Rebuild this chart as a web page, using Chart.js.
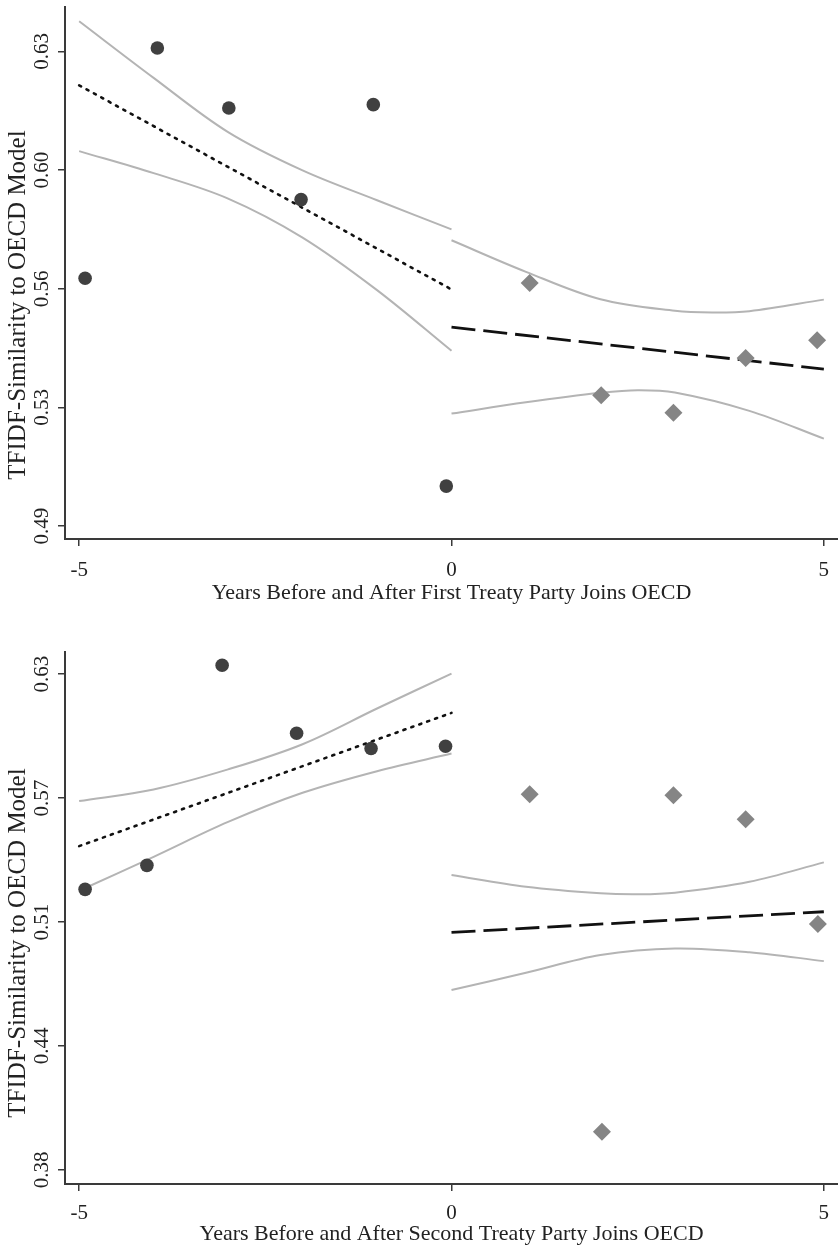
<!DOCTYPE html>
<html>
<head>
<meta charset="utf-8">
<script src="https://cdn.jsdelivr.net/npm/chart.js@4.4.1/dist/chart.umd.min.js"></script>
<style>
  html, body { margin: 0; padding: 0; background: #ffffff; }
  #wrap { position: relative; width: 838px; height: 1250px; }
  canvas { position: absolute; left: 0; display: block; }
</style>
</head>
<body>
<div id="wrap">
  <canvas id="c1" width="838" height="618" style="top:0px"></canvas>
  <canvas id="c2" width="838" height="632" style="top:618px"></canvas>
</div>
<script>
// ---------- shared axis labels ----------
const xTicks = [-5, 0, 5];
const xTickLabels = ['-5', '0', '5'];
const yTitle = 'TFIDF-Similarity to OECD Model';
const xTitleTop = 'Years Before and After First Treaty Party Joins OECD';
const xTitleBottom = 'Years Before and After Second Treaty Party Joins OECD';

// ---------- top panel ----------
const topYTicks = [0.49, 0.525, 0.56, 0.595, 0.63];
const topYTickLabels = ['0.49', '0.53', '0.56', '0.60', '0.63'];
const topPreX = [-4.92, -3.95, -2.99, -2.02, -1.05, -0.07];
const topPreY = [0.5631, 0.6310, 0.6133, 0.5863, 0.6143, 0.5018];
const topPostX = [1.05, 2.01, 2.98, 3.95, 4.91];
const topPostY = [0.5617, 0.5286, 0.5234, 0.5396, 0.5448];
const topPreFitX = [-5, 0];
const topPreFitY = [0.6200, 0.5598];
const topPostFitX = [0, 5];
const topPostFitY = [0.5487, 0.5363];
const topPreCIX = [-5, -4, -3, -2, -1, 0];
const topPreCIUpper = [0.6389, 0.6222, 0.6062, 0.5949, 0.5861, 0.5775];
const topPreCILower = [0.6006, 0.5941, 0.5866, 0.5751, 0.5596, 0.5417];
const topPostCIUpperX = [0, 1, 2, 3, 3.5, 4, 5];
const topPostCIUpper = [0.5743, 0.5650, 0.5569, 0.5535, 0.5530, 0.5534, 0.5568];
const topPostCILowerX = [0, 1, 2, 2.5, 3, 4, 5];
const topPostCILower = [0.5232, 0.5265, 0.5293, 0.5301, 0.5294, 0.5240, 0.5158];

// ---------- bottom panel ----------
const botYTicks = [0.38, 0.4425, 0.505, 0.5675, 0.63];
const botYTickLabels = ['0.38', '0.44', '0.51', '0.57', '0.63'];
const botPreX = [-4.92, -4.09, -3.08, -2.08, -1.08, -0.08];
const botPreY = [0.5215, 0.5336, 0.6345, 0.6002, 0.5925, 0.5937];
const botPostX = [1.05, 2.02, 2.98, 3.95, 4.92];
const botPostY = [0.5694, 0.3993, 0.5690, 0.5568, 0.5040];
const botPreFitX = [-5, 0];
const botPreFitY = [0.5433, 0.6105];
const botPostFitX = [0, 5];
const botPostFitY = [0.4998, 0.5102];
const botPreCIX = [-5, -4, -3, -2, -1, 0];
const botPreCIUpper = [0.5660, 0.5719, 0.5820, 0.5947, 0.6127, 0.6303];
const botPreCILower = [0.5208, 0.5379, 0.5555, 0.5702, 0.5811, 0.5900];
const botPostCIUpperX = [0, 1, 2, 2.5, 3, 4, 5];
const botPostCIUpper = [0.5287, 0.5228, 0.5195, 0.5190, 0.5198, 0.5253, 0.5351];
const botPostCILowerX = [0, 1, 2, 3, 4, 5];
const botPostCILower = [0.4707, 0.4794, 0.4884, 0.4917, 0.4898, 0.4853];

// ---------- styling ----------
const FONT = '"Liberation Serif", "Times New Roman", serif';
const TEXT = '#222222';
const AXIS = '#3a3a3a';
const CI = '#b4b4b4';
const DOT = '#404040';
const DIAM = '#858585';

function pts(xs, ys) { return xs.map((x, i) => ({ x: x, y: ys[i] })); }

function lineDs(xs, ys, color, width, dash, smooth) {
  return {
    data: pts(xs, ys), showLine: true, pointRadius: 0, pointHoverRadius: 0,
    borderColor: color, borderWidth: width, borderDash: dash || [],
    borderCapStyle: dash && dash[0] <= 3 ? 'round' : 'butt',
    fill: false, tension: smooth ? 0.35 : 0
  };
}

const yTitlePlugin = {
  id: 'yTitlePlugin',
  afterDraw(chart, args, opts) {
    const ctx = chart.ctx;
    ctx.save();
    ctx.translate(opts.x, opts.y);
    ctx.rotate(-Math.PI / 2);
    ctx.font = '25px ' + FONT;
    ctx.fillStyle = TEXT;
    ctx.textAlign = 'center';
    ctx.textBaseline = 'middle';
    ctx.fillText(opts.text, 0, 0);
    ctx.restore();
  }
};

function makeChart(id, cfg) {
  const datasets = [
    { data: pts(cfg.preX, cfg.preY), showLine: false, pointStyle: 'circle', pointRadius: 6.8,
      pointBackgroundColor: DOT, pointBorderColor: DOT, pointBorderWidth: 0 },
    { data: pts(cfg.postX, cfg.postY), showLine: false, pointStyle: 'rectRot', pointRadius: 9,
      pointBackgroundColor: DIAM, pointBorderColor: DIAM, pointBorderWidth: 0 },
    lineDs(cfg.preFitX, cfg.preFitY, '#111111', 2.6, [2.2, 6.2], false),
    lineDs(cfg.postFitX, cfg.postFitY, '#111111', 2.8, [24, 8], false),
    lineDs(cfg.preCIX, cfg.preCIU, CI, 2, null, true),
    lineDs(cfg.preCIX, cfg.preCIL, CI, 2, null, true),
    lineDs(cfg.postCIUX, cfg.postCIU, CI, 2, null, true),
    lineDs(cfg.postCILX, cfg.postCIL, CI, 2, null, true)
  ];
  return new Chart(document.getElementById(id), {
    type: 'scatter',
    data: { datasets: datasets },
    plugins: [yTitlePlugin],
    options: {
      responsive: false,
      animation: false,
      events: [],
      layout: { autoPadding: false, padding: { left: 20, right: 0, top: cfg.padTop, bottom: 0 } },
      plugins: {
        legend: { display: false },
        tooltip: { enabled: false },
        yTitlePlugin: { text: yTitle, x: 18, y: cfg.yTitleY }
      },
      scales: {
        x: {
          type: 'linear', position: 'bottom', min: -5.19, max: 5.19,
          afterBuildTicks: (s) => { s.ticks = xTicks.map(v => ({ value: v })); },
          afterFit: (s) => { s.height = cfg.xAxisH; s.paddingLeft = 0; s.paddingRight = 0; },
          ticks: {
            autoSkip: false, maxRotation: 0, minRotation: 0, padding: cfg.xTickPad,
            color: TEXT, font: { family: FONT, size: 21 },
            callback: (v, i) => xTickLabels[i]
          },
          grid: { display: true, drawOnChartArea: false, drawTicks: true, tickLength: 7, color: AXIS, lineWidth: 1.5 },
          border: { display: true, color: AXIS, width: 2 },
          title: { display: true, text: cfg.xTitle, color: TEXT,
                   font: { family: FONT, size: 22 }, padding: { top: 0, bottom: cfg.xTitlePadB } }
        },
        y: {
          type: 'linear', position: 'left', min: cfg.yMin, max: cfg.yMax,
          afterBuildTicks: (s) => { s.ticks = cfg.yTicks.map(v => ({ value: v })); },
          afterFit: (s) => { s.width = 45; s.paddingTop = 0; s.paddingBottom = 0; },
          ticks: {
            autoSkip: false, minRotation: 90, maxRotation: 90, crossAlign: 'center', padding: -3,
            color: TEXT, font: { family: FONT, size: 21 },
            callback: (v, i) => cfg.yTickLabels[i]
          },
          grid: { display: true, drawOnChartArea: false, drawTicks: true, tickLength: 7, color: AXIS, lineWidth: 1.5 },
          border: { display: true, color: AXIS, width: 2 }
        }
      }
    }
  });
}

makeChart('c1', {
  preX: topPreX, preY: topPreY, postX: topPostX, postY: topPostY,
  preFitX: topPreFitX, preFitY: topPreFitY, postFitX: topPostFitX, postFitY: topPostFitY,
  preCIX: topPreCIX, preCIU: topPreCIUpper, preCIL: topPreCILower,
  postCIUX: topPostCIUpperX, postCIU: topPostCIUpper, postCILX: topPostCILowerX, postCIL: topPostCILower,
  yTicks: topYTicks, yTickLabels: topYTickLabels, yMin: 0.4862, yMax: 0.6431,
  xTitle: xTitleTop, padTop: 7, xAxisH: 79, xTickPad: 12, xTitlePadB: 12, yTitleY: 305
});

makeChart('c2', {
  preX: botPreX, preY: botPreY, postX: botPostX, postY: botPostY,
  preFitX: botPreFitX, preFitY: botPreFitY, postFitX: botPostFitX, postFitY: botPostFitY,
  preCIX: botPreCIX, preCIU: botPreCIUpper, preCIL: botPreCILower,
  postCIUX: botPostCIUpperX, postCIU: botPostCIUpper, postCILX: botPostCILowerX, postCIL: botPostCILower,
  yTicks: botYTicks, yTickLabels: botYTickLabels, yMin: 0.3729, yMax: 0.6412,
  xTitle: xTitleBottom, padTop: 34, xAxisH: 66, xTickPad: 10, xTitlePadB: 3, yTitleY: 325
});
</script>
</body>
</html>
